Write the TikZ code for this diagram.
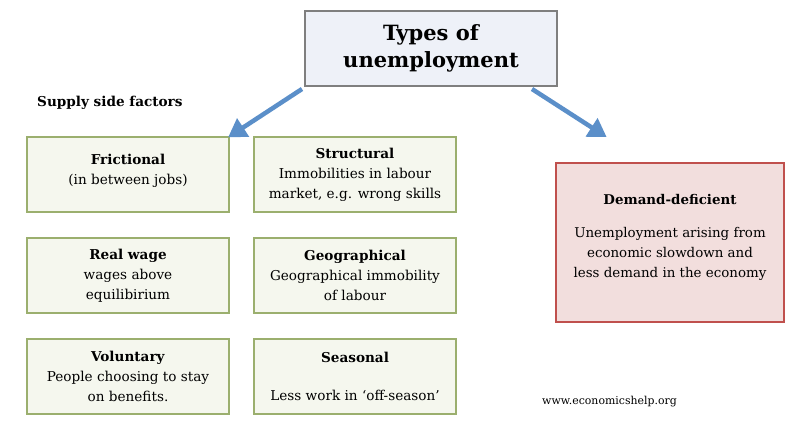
\documentclass[tikz,border=0pt]{standalone}
\usepackage{fontspec}
\setmainfont{DejaVu Serif}
\usetikzlibrary{arrows.meta}
\definecolor{titlefill}{HTML}{EEF1F8}
\definecolor{titledraw}{HTML}{7F7F7F}
\definecolor{greenfill}{HTML}{F5F7EE}
\definecolor{greendraw}{HTML}{9BAF6E}
\definecolor{pinkfill}{HTML}{F2DEDD}
\definecolor{pinkdraw}{HTML}{C0504D}
\definecolor{arrowblue}{HTML}{5B8FC9}
\tikzset{
  titlebox/.style={draw=titledraw, fill=titlefill, line width=1.5pt, minimum width=252pt, minimum height=75pt, align=center, inner sep=0pt, font=\fontsize{21}{27}\selectfont\bfseries},
  greenbox/.style={draw=greendraw, fill=greenfill, line width=1.5pt, minimum width=202pt, minimum height=75pt, align=center, inner sep=0pt, font=\fontsize{13.6}{20}\selectfont},
  pinkbox/.style={draw=pinkdraw, fill=pinkfill, line width=1.2pt, minimum width=228pt, minimum height=159pt, align=center, inner sep=0pt, font=\fontsize{13.4}{20}\selectfont},
  bluearrow/.style={draw=arrowblue, line width=4.5pt, -{Triangle[width=21pt,length=18pt]}, shorten >=-2pt},
  plainlabel/.style={inner sep=0pt, anchor=west}
}
\begin{document}
\begin{tikzpicture}[x=1pt,y=-1pt]
\useasboundingbox (0,0) rectangle (794,423);
\node[titlebox] (title) at (431,48.5) {Types of\\unemployment};
\node[plainlabel, font=\fontsize{13.6}{16}\selectfont\bfseries] (supply) at (37,103) {Supply side factors};
\node[greenbox] (fric) at (128,174.5) {\textbf{Frictional}\\(in between jobs)\\[-10pt]\mbox{}};
\node[greenbox] (struct) at (355,174.5) {\textbf{Structural}\\Immobilities in labour\\market, e.g. wrong skills};
\node[greenbox] (real) at (128,275.5) {\textbf{Real wage}\\wages above\\equilibirium};
\node[greenbox] (geo) at (355,275.5) {\textbf{Geographical}\\Geographical immobility\\of labour};
\node[greenbox] (vol) at (128,376.5) {\textbf{Voluntary}\\People choosing to stay\\on benefits.};
\node[greenbox] (seas) at (355,376.5) {\textbf{Seasonal}\\[18pt]Less work in `off-season'};
\node[pinkbox] (demand) at (670,242.5) {\textbf{Demand-deficient}\\[13pt]Unemployment arising from\\economic slowdown and\\less demand in the economy\\[-6pt]\mbox{}};
\node[plainlabel, font=\fontsize{10.9}{13}\selectfont] (web) at (542,402) {www.economicshelp.org};
\coordinate (lstart) at (302,89);
\coordinate (rstart) at (532,89);
\coordinate (rend) at (605,136);
\draw[bluearrow] (lstart) -- (fric.north east);
\draw[bluearrow] (rstart) -- (rend);
\end{tikzpicture}
\end{document}
